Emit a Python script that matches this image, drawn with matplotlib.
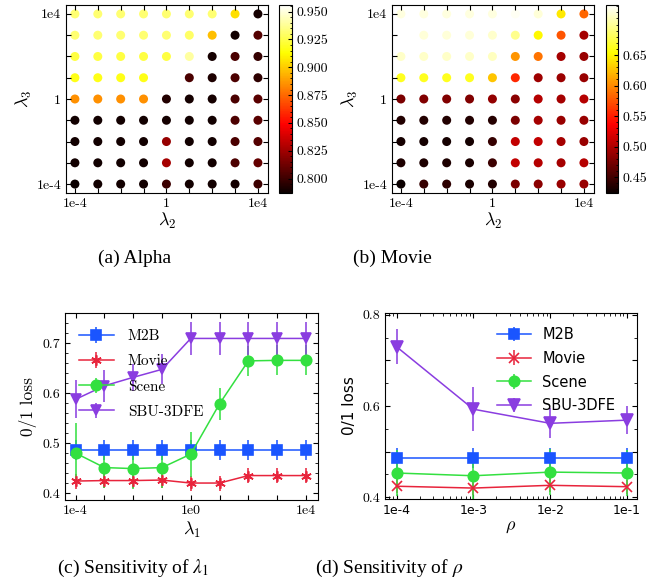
import numpy as np
import matplotlib
matplotlib.use("Agg")
import matplotlib.pyplot as plt
from matplotlib.colors import to_rgba
from matplotlib.ticker import (FixedLocator, FixedFormatter, NullLocator,
                               MultipleLocator, FormatStrFormatter, FuncFormatter)

# ==========================================================
# DATA
# ==========================================================
lam = [1e-4, 1e-3, 1e-2, 1e-1, 1e0, 1e1, 1e2, 1e3, 1e4]
lam_ticks_ab = ['1e-4', '', '', '', '1', '', '', '', '1e4']
lam_ticks_c = ['1e-4', '', '', '', '1e0', '', '', '', '1e4']

# rows: lambda3 from 1e4 (top) down to 1e-4 (bottom), cols: lambda2 1e-4 .. 1e4
alpha_acc = [
    [0.932, 0.932, 0.932, 0.932, 0.932, 0.932, 0.932, 0.905, 0.790],
    [0.932, 0.932, 0.932, 0.932, 0.932, 0.930, 0.897, 0.789, 0.806],
    [0.924, 0.924, 0.924, 0.924, 0.924, 0.940, 0.790, 0.803, 0.798],
    [0.917, 0.917, 0.917, 0.917, 0.956, 0.803, 0.792, 0.804, 0.796],
    [0.885, 0.885, 0.885, 0.885, 0.793, 0.790, 0.790, 0.803, 0.807],
    [0.789, 0.789, 0.789, 0.789, 0.790, 0.789, 0.789, 0.804, 0.807],
    [0.789, 0.789, 0.789, 0.789, 0.822, 0.789, 0.789, 0.803, 0.806],
    [0.789, 0.789, 0.789, 0.789, 0.826, 0.789, 0.789, 0.804, 0.810],
    [0.787, 0.789, 0.789, 0.789, 0.800, 0.789, 0.789, 0.790, 0.800],
]

movie_acc = [
    [0.722, 0.722, 0.722, 0.722, 0.722, 0.728, 0.719, 0.644, 0.584],
    [0.732, 0.719, 0.719, 0.719, 0.716, 0.697, 0.651, 0.575, 0.496],
    [0.715, 0.715, 0.715, 0.715, 0.712, 0.605, 0.589, 0.495, 0.490],
    [0.663, 0.663, 0.663, 0.663, 0.627, 0.555, 0.492, 0.491, 0.490],
    [0.476, 0.479, 0.479, 0.479, 0.487, 0.483, 0.503, 0.496, 0.503],
    [0.435, 0.435, 0.435, 0.435, 0.437, 0.476, 0.496, 0.490, 0.490],
    [0.429, 0.429, 0.429, 0.429, 0.444, 0.509, 0.509, 0.496, 0.490],
    [0.433, 0.433, 0.433, 0.432, 0.448, 0.509, 0.503, 0.496, 0.503],
    [0.424, 0.444, 0.440, 0.432, 0.435, 0.476, 0.483, 0.490, 0.490],
]

# (c) sensitivity of lambda1
m2b_c = [0.487] * 9
m2b_c_err = [0.02] * 9
movie_c = [0.424, 0.425, 0.425, 0.426, 0.420, 0.420, 0.435, 0.435, 0.435]
movie_c_err = [0.015] * 9
scene_c = [0.480, 0.451, 0.449, 0.451, 0.478, 0.579, 0.665, 0.666, 0.666]
scene_c_err = [0.06, 0.04, 0.04, 0.04, 0.045, 0.032, 0.03, 0.03, 0.03]
sbu_c = [0.588, 0.615, 0.632, 0.648, 0.710, 0.710, 0.710, 0.710, 0.710]
sbu_c_err = [0.038, 0.032, 0.027, 0.03, 0.033, 0.033, 0.033, 0.033, 0.033]

# (d) sensitivity of rho
rho = [1e-4, 1e-3, 1e-2, 1e-1]
rho_ticks = ['1e-4', '1e-3', '1e-2', '1e-1']
m2b_d = [0.485, 0.485, 0.485, 0.485]
m2b_d_err = [0.022] * 4
movie_d = [0.424, 0.420, 0.426, 0.423]
movie_d_err = [0.015] * 4
scene_d = [0.453, 0.447, 0.455, 0.453]
scene_d_err = [0.05] * 4
sbu_d = [0.730, 0.593, 0.562, 0.569]
sbu_d_err = [0.038, 0.048, 0.033, 0.030]

names = ['M2B', 'Movie', 'Scene', 'SBU-3DFE']
colors = ['#1a55ff', '#e8243c', '#33e040', '#8a3de0']

# ==========================================================
# STYLE
# ==========================================================
plt.rcParams['font.family'] = ['cmr10']
plt.rcParams['mathtext.fontset'] = 'cm'
plt.rcParams['axes.unicode_minus'] = False
plt.rcParams['axes.formatter.use_mathtext'] = False
plt.rcParams['xtick.direction'] = 'in'
plt.rcParams['ytick.direction'] = 'in'
plt.rcParams['xtick.top'] = True
plt.rcParams['ytick.right'] = True

W, H = 654, 582
fig = plt.figure(figsize=(W / 100, H / 100), dpi=100)


def px_axes(l, t, r, b):
    return fig.add_axes([l / W, 1 - b / H, (r - l) / W, (b - t) / H])


# ==========================================================
# HEATMAPS (a), (b)
# ==========================================================
def heatmap(ax_box, cb_box, acc, vmin, vmax, cb_ticks, cb_fmt, cb_minor):
    ax = px_axes(*ax_box)
    X, Y = np.meshgrid(lam, lam[::-1])
    sc = ax.scatter(X.ravel(), Y.ravel(), c=np.array(acc).ravel(), cmap='hot',
                    vmin=vmin, vmax=vmax, s=42, edgecolors='none')
    ax.set_xscale('log')
    ax.set_yscale('log')
    ax.set_xlim(10 ** -4.39, 10 ** 4.44)
    ax.set_ylim(10 ** -4.42, 10 ** 4.42)
    for axis in (ax.xaxis, ax.yaxis):
        axis.set_major_locator(FixedLocator(lam))
        axis.set_major_formatter(FixedFormatter(lam_ticks_ab))
        axis.set_minor_locator(NullLocator())
    ax.tick_params(labelsize=10, length=3.5, width=0.8)
    ax.set_xlabel(r'$\lambda_2$', fontsize=13, labelpad=1)
    ax.set_ylabel(r'$\lambda_3$', fontsize=13, labelpad=2)

    cax = px_axes(*cb_box)
    cb = fig.colorbar(sc, cax=cax)
    cb.ax.yaxis.set_major_locator(FixedLocator(cb_ticks))
    cb.ax.yaxis.set_major_formatter(FormatStrFormatter(cb_fmt))
    cb.ax.yaxis.set_minor_locator(MultipleLocator(cb_minor))
    cb.ax.tick_params(which='both', direction='in', labelsize=10)
    cb.ax.tick_params(which='major', length=3)
    cb.ax.tick_params(which='minor', length=1.5)
    cb.outline.set_linewidth(0.8)


heatmap((66, 5, 268, 193), (279, 5, 292, 193), alpha_acc, 0.787, 0.956,
        [0.800, 0.825, 0.850, 0.875, 0.900, 0.925, 0.950], '%.3f', 0.005)
heatmap((392, 5, 594, 193), (606, 5, 618, 193), movie_acc, 0.424, 0.732,
        [0.45, 0.50, 0.55, 0.60, 0.65], '%.2f', 0.01)

# ==========================================================
# LINE PLOTS (c), (d)
# ==========================================================
def draw_series(ax, x, series, errs, markers, sizes):
    for y, e, name, c, m, ms in zip(series, errs, names, colors, markers, sizes):
        ax.errorbar(x, y, yerr=e, color=c, ecolor=to_rgba(c, 0.8), marker=m,
                    ms=ms, mew=1.2, lw=1.1, elinewidth=1.4, capsize=0, label=name)


# (c)
ax = px_axes(65, 313, 318, 500)
draw_series(ax, lam, [m2b_c, movie_c, scene_c, sbu_c],
            [m2b_c_err, movie_c_err, scene_c_err, sbu_c_err],
            ['s', (6, 2, 0), 'o', 'v'], [6.5, 7.5, 7.5, 7.5])
ax.set_xscale('log')
ax.set_xlim(10 ** -4.37, 10 ** 4.42)
ax.set_ylim(0.386, 0.761)
ax.xaxis.set_major_locator(FixedLocator(lam))
ax.xaxis.set_major_formatter(FixedFormatter(lam_ticks_c))
ax.xaxis.set_minor_locator(NullLocator())
ax.yaxis.set_major_locator(MultipleLocator(0.1))
ax.yaxis.set_minor_locator(MultipleLocator(0.02))
ax.tick_params(which='major', labelsize=10, length=3.5, width=0.8)
ax.tick_params(which='minor', length=2, width=0.6)
ax.set_xlabel(r'$\lambda_1$', fontsize=13, labelpad=2)
ax.set_ylabel('0/1 loss', fontsize=12.5, labelpad=4)
ax.legend(loc='upper left', bbox_to_anchor=(0.0, 0.985), frameon=False,
          fontsize=11, handlelength=2.3, handletextpad=0.9, labelspacing=0.75,
          borderaxespad=0.5)

# (d)
ax = px_axes(385, 313, 637, 499)
draw_series(ax, rho, [m2b_d, movie_d, scene_d, sbu_d],
            [m2b_d_err, movie_d_err, scene_d_err, sbu_d_err],
            ['s', 'x', 'o', 'v'], [7.5, 7, 7.5, 8.5])
ax.set_xscale('log')
ax.set_xlim(10 ** -4.15, 10 ** -0.87)
ax.set_ylim(0.396, 0.804)
ax.xaxis.set_major_locator(FixedLocator(rho))
ax.xaxis.set_major_formatter(FixedFormatter(rho_ticks))
ax.yaxis.set_major_locator(MultipleLocator(0.1))
ax.yaxis.set_major_formatter(FuncFormatter(
    lambda v, p: '%.1f' % v if round(v * 10) % 2 == 0 else ''))
ax.yaxis.set_minor_locator(MultipleLocator(0.05))
ax.tick_params(which='major', labelsize=10, length=3.5, width=0.8)
ax.tick_params(which='minor', length=2, width=0.6)
for lbl in ax.get_xticklabels():
    lbl.set_fontfamily('DejaVu Sans')
    lbl.set_fontsize(9)
ax.set_xlabel(r'$\rho$', fontsize=13, labelpad=2)
ax.set_ylabel('0/1 loss', fontsize=11, family='DejaVu Sans', labelpad=4)
ax.legend(loc='upper left', bbox_to_anchor=(0.393, 0.995), frameon=False,
          prop={'family': 'DejaVu Sans', 'size': 10.5}, handlelength=2.3,
          handletextpad=0.8, labelspacing=0.6, borderaxespad=0.5)

# ==========================================================
# CAPTIONS
# ==========================================================
cap = dict(fontsize=14, family='Liberation Serif', ha='center', va='center',
           math_fontfamily='stix')
fig.text(135 / W, 1 - 258 / H, '(a) Alpha', **cap)
fig.text(392 / W, 1 - 258 / H, '(b) Movie', **cap)
fig.text(133 / W, 1 - 568 / H, r'(c) Sensitivity of $\lambda_1$', **cap)
fig.text(389 / W, 1 - 568 / H, r'(d) Sensitivity of $\rho$', **cap)

plt.savefig('out.png', dpi=100)
